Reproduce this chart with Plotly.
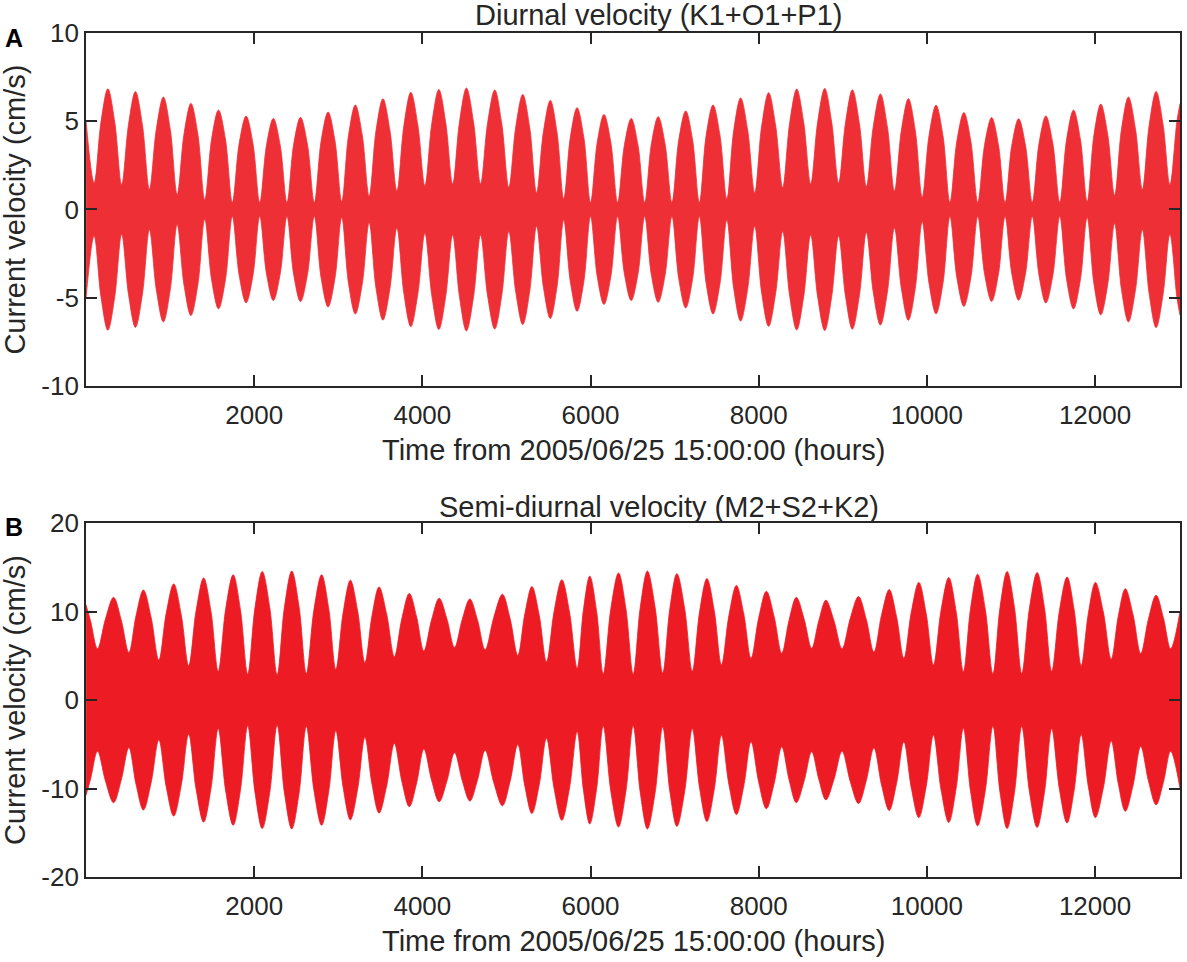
import plotly.graph_objects as go

# Envelope of the plotted velocity (cm/s):
# (hour, amplitude) at beat nodes, half-way points and beat peaks.
diurnal_envelope = [
    (1, 5.0), (96, 1.5), (178, 4.95), (260, 6.84), (342, 4.94),
    (424, 1.4), (506, 4.83), (588, 6.68), (671, 4.79),
    (754, 1.15), (837, 4.58), (920, 6.37), (1002, 4.54),
    (1084, 0.85), (1166, 4.29), (1248, 6.01), (1330, 4.27),
    (1412, 0.55), (1494, 4.00), (1576, 5.63), (1658, 3.99),
    (1740, 0.4), (1822, 3.75), (1904, 5.29), (1985, 3.75),
    (2066, 0.4), (2147, 3.66), (2228, 5.16), (2309, 3.66),
    (2390, 0.4), (2470, 3.70), (2551, 5.22), (2633, 3.70),
    (2715, 0.4), (2797, 3.91), (2879, 5.52), (2960, 3.92),
    (3041, 0.45), (3122, 4.20), (3203, 5.92), (3285, 4.22),
    (3367, 0.75), (3449, 4.47), (3531, 6.27), (3614, 4.49),
    (3697, 1.05), (3780, 4.75), (3863, 6.64), (3946, 4.79),
    (4030, 1.35), (4113, 4.90), (4196, 6.80), (4278, 4.92),
    (4360, 1.45), (4442, 4.97), (4524, 6.88), (4608, 4.97),
    (4692, 1.45), (4776, 4.90), (4861, 6.77), (4944, 4.87),
    (5028, 1.25), (5111, 4.69), (5194, 6.52), (5276, 4.66),
    (5358, 0.95), (5440, 4.42), (5522, 6.18), (5601, 4.39),
    (5681, 0.6), (5760, 4.10), (5840, 5.77), (5920, 4.09),
    (6000, 0.4), (6080, 3.81), (6160, 5.38), (6241, 3.81),
    (6322, 0.4), (6403, 3.66), (6484, 5.16), (6564, 3.66),
    (6644, 0.4), (6724, 3.73), (6805, 5.26), (6886, 3.73),
    (6968, 0.4), (7050, 3.96), (7132, 5.58), (7213, 3.96),
    (7294, 0.4), (7375, 4.20), (7457, 5.92), (7539, 4.21),
    (7621, 0.6), (7703, 4.49), (7785, 6.32), (7868, 4.52),
    (7952, 0.95), (8035, 4.73), (8118, 6.62), (8201, 4.76),
    (8285, 1.25), (8368, 4.90), (8452, 6.82), (8535, 4.93),
    (8618, 1.45), (8701, 4.96), (8785, 6.86), (8867, 4.97),
    (8950, 1.5), (9032, 4.91), (9114, 6.78), (9197, 4.88),
    (9280, 1.3), (9363, 4.72), (9447, 6.55), (9530, 4.69),
    (9614, 1.05), (9697, 4.50), (9780, 6.28), (9862, 4.47),
    (9944, 0.7), (10026, 4.21), (10109, 5.91), (10191, 4.19),
    (10274, 0.4), (10357, 3.89), (10440, 5.49), (10522, 3.89),
    (10605, 0.4), (10687, 3.69), (10770, 5.21), (10850, 3.69),
    (10930, 0.4), (11010, 3.65), (11091, 5.14), (11172, 3.65),
    (11253, 0.4), (11334, 3.76), (11415, 5.30), (11497, 3.76),
    (11580, 0.4), (11662, 3.99), (11744, 5.63), (11825, 3.99),
    (11906, 0.45), (11987, 4.23), (12068, 5.97), (12150, 4.26),
    (12232, 0.8), (12314, 4.54), (12397, 6.37), (12480, 4.58),
    (12562, 1.15), (12644, 4.80), (12726, 6.69), (12808, 4.83),
    (12890, 1.4), (12972, 4.94), (13010, 6.0),
]

semidiurnal_envelope = [
    (1, 10.75), (55, 8.9), (137, 5.8), (232, 9.17), (328, 11.6), (419, 9.04),
    (510, 5.38), (596, 9.58), (683, 12.43), (774, 9.35),
    (866, 4.52), (954, 9.81), (1043, 13.12), (1132, 9.67),
    (1221, 3.87), (1310, 10.13), (1399, 13.79), (1486, 10.02),
    (1572, 3.25), (1661, 10.27), (1750, 14.15), (1836, 10.22),
    (1923, 2.92), (2010, 10.47), (2096, 14.52), (2185, 10.46),
    (2273, 2.85), (2360, 10.50), (2447, 14.57), (2534, 10.52),
    (2620, 3.0), (2711, 10.23), (2802, 14.15), (2887, 10.30),
    (2971, 3.46), (3058, 9.88), (3144, 13.54), (3231, 10.03),
    (3317, 4.22), (3401, 9.52), (3485, 12.78), (3576, 9.68),
    (3667, 4.9), (3756, 9.20), (3845, 12.05), (3932, 9.38),
    (4018, 5.54), (4109, 9.03), (4200, 11.5), (4292, 9.16),
    (4383, 5.95), (4474, 9.10), (4565, 11.42), (4656, 9.02),
    (4747, 5.7), (4850, 9.36), (4952, 11.95), (5044, 9.17),
    (5135, 5.04), (5219, 9.74), (5303, 12.82), (5390, 9.57),
    (5476, 4.32), (5568, 10.08), (5659, 13.59), (5750, 9.94),
    (5841, 3.6), (5916, 10.22), (5991, 14.0), (6071, 10.12),
    (6151, 2.95), (6242, 10.36), (6333, 14.35), (6420, 10.35),
    (6507, 2.92), (6592, 10.51), (6676, 14.57), (6767, 10.53),
    (6858, 3.05), (6943, 10.32), (7027, 14.28), (7119, 10.36),
    (7210, 3.25), (7297, 9.98), (7384, 13.73), (7471, 10.11),
    (7557, 3.98), (7646, 9.58), (7735, 12.95), (7822, 9.74),
    (7909, 4.71), (8000, 9.30), (8091, 12.28), (8183, 9.45),
    (8274, 5.28), (8361, 9.01), (8447, 11.6), (8539, 9.19),
    (8630, 5.85), (8715, 8.98), (8799, 11.28), (8895, 8.97),
    (8991, 5.8), (9089, 9.23), (9187, 11.7), (9279, 9.12),
    (9370, 5.42), (9461, 9.62), (9552, 12.48), (9639, 9.43),
    (9726, 4.71), (9815, 9.97), (9904, 13.29), (9991, 9.81),
    (10078, 3.96), (10169, 10.18), (10260, 13.84), (10347, 10.04),
    (10434, 3.2), (10519, 10.31), (10603, 14.22), (10694, 10.27),
    (10785, 2.95), (10870, 10.48), (10954, 14.52), (11041, 10.48),
    (11128, 3.0), (11220, 10.40), (11311, 14.4), (11398, 10.44),
    (11484, 3.25), (11576, 10.09), (11667, 13.9), (11751, 10.21),
    (11835, 3.9), (11920, 9.79), (12004, 13.29), (12098, 9.95),
    (12192, 4.62), (12276, 9.47), (12360, 12.57), (12452, 9.63),
    (12543, 5.25), (12635, 9.16), (12726, 11.84), (12812, 9.32),
    (12899, 5.8), (13010, 10.0),
]

x_ticks = [2000, 4000, 6000, 8000, 10000, 12000]
x_labels = ["2000", "4000", "6000", "8000", "10000", "12000"]
ya_ticks = [-10, -5, 0, 5, 10]
ya_labels = ["-10", "-5", "0", "5", "10"]
yb_ticks = [-20, -10, 0, 10, 20]
yb_labels = ["-20", "-10", "0", "10", "20"]

RED = '#ED1C24'
RED_LIGHT = '#EF2F36'
INK = '#262626'
FONT = 'Liberation Sans, Arial, Helvetica, sans-serif'

fig = go.Figure()


def add_band(envelope, xa, ya, color):
    hours = [h for h, a in envelope]
    upper = [a for h, a in envelope]
    lower = [-a for h, a in envelope]
    line = dict(color=color, width=0.8, shape='spline', smoothing=1.0)
    fig.add_trace(go.Scatter(x=hours, y=lower, mode='lines', line=line,
                             xaxis=xa, yaxis=ya, showlegend=False, hoverinfo='skip'))
    fig.add_trace(go.Scatter(x=hours, y=upper, mode='lines', line=line,
                             fill='tonexty', fillcolor=color,
                             xaxis=xa, yaxis=ya, showlegend=False, hoverinfo='skip'))


add_band(diurnal_envelope, 'x', 'y', RED_LIGHT)
add_band(semidiurnal_envelope, 'x2', 'y2', RED)

axis_style = dict(
    showline=True, linecolor=INK, linewidth=1.8, mirror='ticks',
    ticks='inside', ticklen=11, tickwidth=1.5, tickcolor=INK,
    showgrid=False, zeroline=False,
    tickfont=dict(family=FONT, size=26, color=INK),
)

fig.update_layout(
    width=1187, height=962,
    margin=dict(l=86, r=5, t=33, b=85),
    paper_bgcolor='white', plot_bgcolor='white',
    font=dict(family=FONT, color=INK),
    xaxis=dict(domain=[0, 1], anchor='y', range=[0, 13010], ticklabelstandoff=5,
               tickvals=x_ticks, ticktext=x_labels, **axis_style),
    yaxis=dict(domain=[0.5818, 1], anchor='x', range=[-10, 10],
               tickvals=ya_ticks, ticktext=ya_labels, **axis_style),
    xaxis2=dict(domain=[0, 1], anchor='y2', range=[0, 13010], ticklabelstandoff=5,
                tickvals=x_ticks, ticktext=x_labels, **axis_style),
    yaxis2=dict(domain=[0, 0.4194], anchor='x2', range=[-20, 20],
                tickvals=yb_ticks, ticktext=yb_labels, **axis_style),
)

big = dict(family=FONT, size=29, color=INK)
letter = dict(family=FONT, size=25, color='black')
notes = [
    dict(text="Diurnal velocity (K1+O1+P1)", x=0.5237, y=1.0213, font=big),
    dict(text="Semi-diurnal velocity (M2+S2+K2)", x=0.5237, y=0.4384, font=big),
    dict(text="Time from 2005/06/25 15:00:00 (hours)", x=0.5, y=0.5059, font=big),
    dict(text="Time from 2005/06/25 15:00:00 (hours)", x=0.5, y=-0.0758, font=big),
    dict(text="Current velocity (cm/s)", x=-0.0648, y=0.7909, font=big, textangle=-90),
    dict(text="Current velocity (cm/s)", x=-0.0648, y=0.2097, font=big, textangle=-90),
    dict(text="<b>A</b>", x=-0.0657, y=0.9941, font=letter),
    dict(text="<b>B</b>", x=-0.0657, y=0.4147, font=letter),
]
for n in notes:
    fig.add_annotation(xref='paper', yref='paper', xanchor='center', yanchor='middle',
                       showarrow=False, **n)

# drop the browser's default 8 px body margin so the figure sits at the page corner
fig.write_html("out.html", config={'displayModeBar': False},
               post_script="document.body.style.margin = '0px';")
